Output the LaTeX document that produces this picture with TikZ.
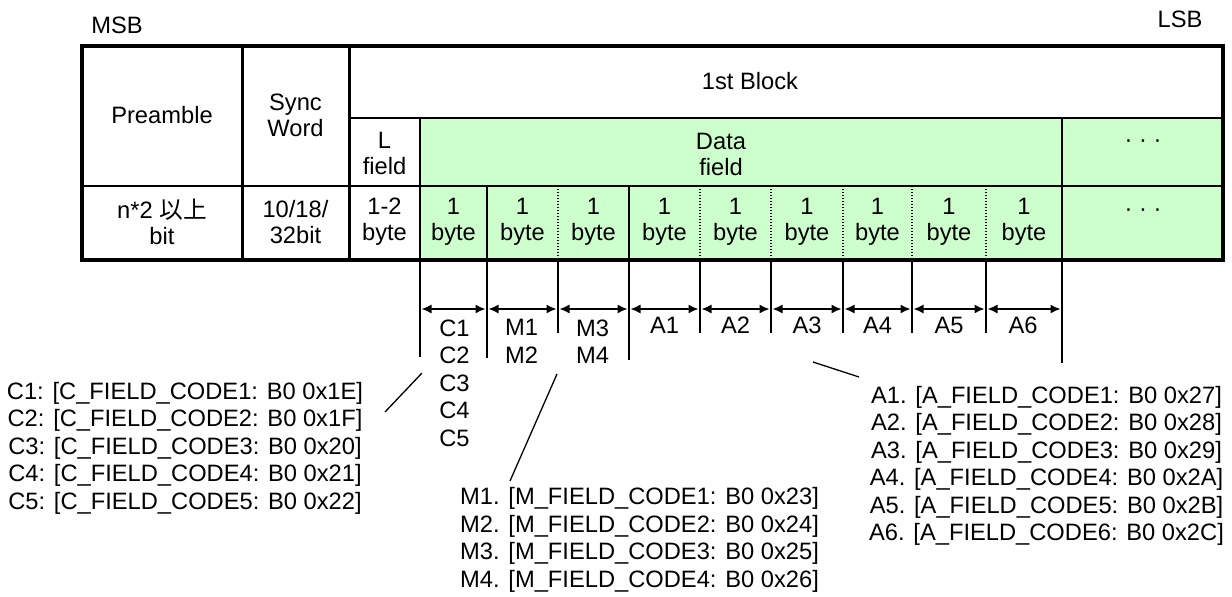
\documentclass[tikz,border=0pt]{standalone}
\usepackage{fontspec}
\setmainfont{Liberation Sans}
\newfontfamily\cjkfont{Noto Sans CJK JP}
\usetikzlibrary{arrows.meta}
\definecolor{datagreen}{HTML}{CCFFCC}
\begin{document}
\begin{tikzpicture}[x=1pt,y=-1pt,
  every node/.style={inner sep=0pt, align=center},
  celltext/.style={font=\fontsize{23.7}{26}\selectfont},
  labeltext/.style={font=\fontsize{23.7}{27.5}\selectfont},
  thickrule/.style={line width=4pt},
  midrule/.style={line width=3pt},
  thinrule/.style={line width=1.7pt},
  dotrule/.style={line width=1.3pt, dash pattern=on 1.3pt off 1.7pt},
  tickline/.style={line width=1.5pt},
  dimarrow/.style={line width=1.5pt, {Latex[length=10pt,width=9pt]}-{Latex[length=10pt,width=9pt]}, shorten <=1.5pt, shorten >=1.5pt},
  leadline/.style={line width=1.3pt},
]
\useasboundingbox (0,0) rectangle (1232,597);

% ---------- table ----------
\fill[datagreen] (420,118) rectangle (1223,260);
\draw[thinrule] (349,118) -- (1223,118);
\draw[thinrule] (82,186) -- (1223,186);
\draw[thinrule] (420,118) -- (420,260);
\draw[thinrule] (1062,118) -- (1062,260);
\foreach \x in {487,629} \draw[thinrule] (\x,186) -- (\x,260);
\foreach \x in {558,700,771,843,912,986} \draw[dotrule] (\x,186) -- (\x,260);
\draw[midrule] (242,46) -- (242,260);
\draw[midrule] (349,46) -- (349,260);
\draw[thickrule] (82,46) rectangle (1223,260);

% ---------- headings ----------
\node[celltext] (msb) at (117,25) {MSB};
\node[celltext] (lsb) at (1180,19) {LSB};
\node[celltext] (pre) at (162,115.5) {Preamble};
\node[celltext] (sync) at (295.5,115.5) {Sync\\Word};
\node[celltext] (blk) at (750,81.5) {1st Block};
\node[celltext] (lf) at (384.5,153) {L\\field};
\node[celltext] (df) at (721,154) {Data\\field};
\node[celltext] (dots1) at (1143,144) {· · ·};
\node[celltext] (prebits) at (162,222) {n*2 {\cjkfont 以上}\\bit};
\node[celltext] (syncbits) at (295.5,222) {10/18/\\32bit};
\node[celltext] (lbytes) at (384.5,222) {1-2\\byte};
\foreach \i/\x in {1/453.5,2/522.5,3/593.5,4/664.5,5/735.5,6/807,7/877.5,8/949,9/1024}
  \node[celltext] (byte\i) at (\x,222) {1\\byte};
\node[celltext] (dots2) at (1143,213) {· · ·};

% ---------- dimension lines ----------
\foreach \i/\x in {0/420,1/487,2/558,3/629,4/700,5/771,6/843,7/912,8/986,9/1062}
  \coordinate (c\i) at (\x,309);
\foreach \x/\e in {420/357,487/358,629/360,1062/363,558/333,700/333,771/333,843/333,912/333,986/333}
  \draw[tickline] (\x,260) -- (\x,\e);
\foreach \a/\b in {0/1,1/2,2/3,3/4,4/5,5/6,6/7,7/8,8/9}
  \draw[dimarrow] (c\a) -- (c\b);

\node[labeltext] (cgrp) at (454.5,383) {C1\\C2\\C3\\C4\\C5};
\node[labeltext] (mgrp1) at (521.5,341.5) {M1\\M2};
\node[labeltext] (mgrp2) at (592.5,341.5) {M3\\M4};
\foreach \i/\x in {1/664.5,2/735.5,3/807,4/877.5,5/949,6/1023}
  \node[labeltext] (alab\i) at (\x,325) {A\i};

% ---------- legends ----------
\node[labeltext] (clist) at (185,448) {C1: [C\_FIELD\_CODE1: B0 0x1E]\\C2: [C\_FIELD\_CODE2: B0 0x1F]\\C3: [C\_FIELD\_CODE3: B0 0x20]\\C4: [C\_FIELD\_CODE4: B0 0x21]\\C5: [C\_FIELD\_CODE5: B0 0x22]};
\node[labeltext, align=left, anchor=west] (mlist) at (460,540) {M1. [M\_FIELD\_CODE1: B0 0x23]\\M2. [M\_FIELD\_CODE2: B0 0x24]\\M3. [M\_FIELD\_CODE3: B0 0x25]\\M4. [M\_FIELD\_CODE4: B0 0x26]};
\node[labeltext] (alist) at (1046.5,466) {A1. [A\_FIELD\_CODE1: B0 0x27]\\A2. [A\_FIELD\_CODE2: B0 0x28]\\A3. [A\_FIELD\_CODE3: B0 0x29]\\A4. [A\_FIELD\_CODE4: B0 0x2A]\\A5. [A\_FIELD\_CODE5: B0 0x2B]\\A6. [A\_FIELD\_CODE6: B0 0x2C]};

% ---------- leader lines ----------
\coordinate (cl1) at (422,373); \coordinate (cl2) at (385,412);
\coordinate (ml1) at (557,374); \coordinate (ml2) at (510,481);
\coordinate (al1) at (813,362); \coordinate (al2) at (859,377);
\draw[leadline] (cl1) -- (cl2);
\draw[leadline] (ml1) -- (ml2);
\draw[leadline] (al1) -- (al2);
\end{tikzpicture}
\end{document}
